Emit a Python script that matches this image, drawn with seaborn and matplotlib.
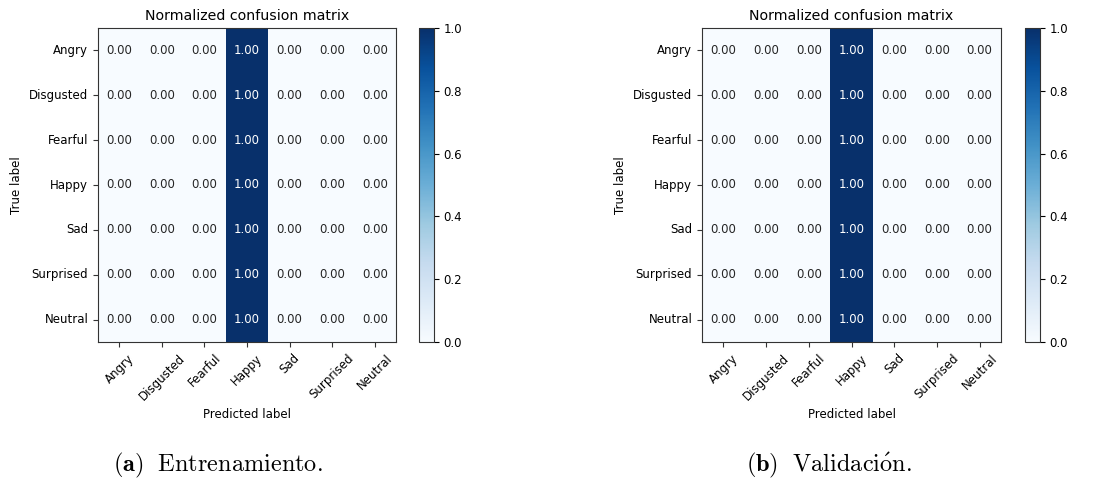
import matplotlib
matplotlib.use("Agg")
import matplotlib.pyplot as plt
import numpy as np
import pandas as pd
import seaborn as sns

classes = ["Angry", "Disgusted", "Fearful", "Happy", "Sad", "Surprised", "Neutral"]

# Normalized confusion matrices (rows = true label, cols = predicted label)
train_cm = [
    [0.00, 0.00, 0.00, 1.00, 0.00, 0.00, 0.00],
    [0.00, 0.00, 0.00, 1.00, 0.00, 0.00, 0.00],
    [0.00, 0.00, 0.00, 1.00, 0.00, 0.00, 0.00],
    [0.00, 0.00, 0.00, 1.00, 0.00, 0.00, 0.00],
    [0.00, 0.00, 0.00, 1.00, 0.00, 0.00, 0.00],
    [0.00, 0.00, 0.00, 1.00, 0.00, 0.00, 0.00],
    [0.00, 0.00, 0.00, 1.00, 0.00, 0.00, 0.00],
]
val_cm = [
    [0.00, 0.00, 0.00, 1.00, 0.00, 0.00, 0.00],
    [0.00, 0.00, 0.00, 1.00, 0.00, 0.00, 0.00],
    [0.00, 0.00, 0.00, 1.00, 0.00, 0.00, 0.00],
    [0.00, 0.00, 0.00, 1.00, 0.00, 0.00, 0.00],
    [0.00, 0.00, 0.00, 1.00, 0.00, 0.00, 0.00],
    [0.00, 0.00, 0.00, 1.00, 0.00, 0.00, 0.00],
    [0.00, 0.00, 0.00, 1.00, 0.00, 0.00, 0.00],
]
captions = [r"$\mathbf{(a)}\ \ \mathrm{Entrenamiento.}$",
            r"$\mathbf{(b)}\ \ \mathrm{Validaci\acute{o}n.}$"]
title = "Normalized confusion matrix"

plt.rcParams["mathtext.fontset"] = "cm"
plt.rcParams["font.family"] = ["DejaVu Sans"]

fig = plt.figure(figsize=(10.96, 4.82), dpi=100)

W, H = 1096, 482
def rect(x0, y0, x1, y1):
    return [x0 / W, 1 - y1 / H, (x1 - x0) / W, (y1 - y0) / H]

panels = [
    (train_cm, rect(98, 28, 396, 342), rect(419, 28, 434, 342), 218),
    (val_cm, rect(702, 28, 1001, 342), rect(1025, 28, 1040, 342), 829),
]

fs = 8.5
for i, (cm, axr, cbr, capx) in enumerate(panels):
    ax = fig.add_axes(axr)
    cax = fig.add_axes(cbr)
    df = pd.DataFrame(cm, index=classes, columns=classes)
    sns.heatmap(df, ax=ax, cbar_ax=cax, cmap="Blues", vmin=0, vmax=1,
                annot=True, fmt=".2f", annot_kws={"fontsize": fs},
                linewidths=0)
    for s in ax.spines.values():
        s.set_visible(True)
        s.set_linewidth(0.8)
        s.set_color("#333333")
    ax.tick_params(axis="both", which="major", length=3.5, width=0.8,
                   labelsize=fs, color="#333333", bottom=True, left=True)
    ax.set_xticklabels(classes, rotation=45, ha="center", fontsize=fs)
    ax.set_yticklabels(classes, rotation=0, fontsize=fs)
    ax.set_xlabel("Predicted label", fontsize=fs)
    ax.set_ylabel("True label", fontsize=fs)
    ax.set_title(title, fontsize=10.2)
    cb = ax.collections[0].colorbar
    cb.outline.set_linewidth(0.8)
    cb.outline.set_edgecolor("#333333")
    cb.set_ticks([0.0, 0.2, 0.4, 0.6, 0.8, 1.0])
    cax.tick_params(labelsize=fs, length=3.5, width=0.8)
    fig.text(capx / W, 1 - 465 / H, captions[i], fontsize=17.5,
             ha="center", va="center")

fig.savefig("out.png", dpi=100)
